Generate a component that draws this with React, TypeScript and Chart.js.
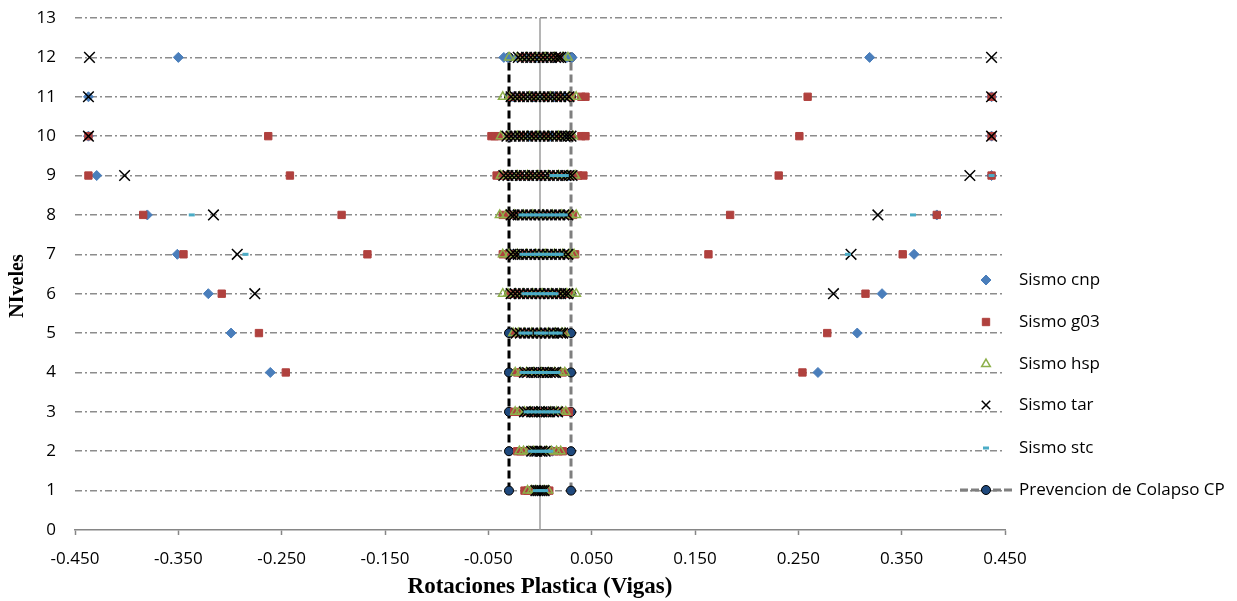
import React, { useEffect, useRef } from 'react';
import { Chart, registerables } from 'chart.js';
import { drawPoint } from 'chart.js/helpers';

Chart.register(...registerables);

// ---------- DATA ----------
const levels = [1, 2, 3, 4, 5, 6, 7, 8, 9, 10, 11, 12];
const xTicks = [-0.45, -0.35, -0.25, -0.15, -0.05, 0.05, 0.15, 0.25, 0.35, 0.45];
const yMin = 0;
const yMax = 13;
const xTitle = 'Rotaciones Plastica (Vigas)';
const yTitle = 'NIveles';
const seriesNames = ['Sismo cnp', 'Sismo g03', 'Sismo hsp', 'Sismo tar', 'Sismo stc', 'Prevencion de Colapso CP'];

// values per level (index 0 = level 1)
const cnpValues: number[][] = [
  [-0.006, -0.002, 0.003],
  [-0.012, -0.006, 0.0, 0.006, 0.012],
  [-0.018, -0.01, -0.002, 0.006, 0.014, 0.02],
  [-0.261, -0.018, -0.01, -0.002, 0.006, 0.014, 0.019, 0.269],
  [-0.299, -0.02, -0.012, -0.004, 0.004, 0.012, 0.02, 0.307],
  [-0.321, -0.025, -0.015, -0.005, 0.005, 0.015, 0.024, 0.331],
  [-0.351, -0.026, -0.016, -0.006, 0.004, 0.014, 0.024, 0.362],
  [-0.38, -0.026, -0.016, -0.006, 0.004, 0.014, 0.024, 0.384],
  [-0.429, -0.03, -0.02, -0.01, 0.0, 0.01, 0.02, 0.028, 0.437],
  [-0.437, -0.03, -0.02, -0.01, 0.0, 0.01, 0.02, 0.028, 0.437],
  [-0.437, -0.026, -0.016, -0.006, 0.004, 0.014, 0.024, 0.437],
  [-0.35, -0.035, -0.031, -0.022, -0.012, -0.004, 0.006, 0.014, 0.02, 0.026, 0.031, 0.319],
];

const g03Values: number[][] = [
  [-0.015, -0.012, -0.008, -0.004, 0.0, 0.004, 0.007, 0.009],
  [-0.022, -0.019, -0.015, -0.01, -0.004, 0.003, 0.009, 0.014, 0.018, 0.022],
  [-0.025, -0.021, -0.016, -0.01, -0.004, 0.003, 0.01, 0.016, 0.021, 0.025, 0.028],
  [-0.246, -0.022, -0.018, -0.012, -0.005, 0.003, 0.01, 0.016, 0.022, 0.254],
  [-0.272, -0.024, -0.02, -0.014, -0.007, 0.001, 0.008, 0.015, 0.02, 0.023, 0.278],
  [-0.308, -0.029, -0.025, -0.019, -0.011, -0.003, 0.005, 0.013, 0.02, 0.025, 0.028, 0.315],
  [-0.345, -0.167, -0.036, -0.031, -0.024, -0.015, -0.006, 0.004, 0.013, 0.022, 0.029, 0.034, 0.163, 0.351],
  [-0.384, -0.192, -0.036, -0.03, -0.022, -0.013, -0.004, 0.006, 0.015, 0.023, 0.029, 0.032, 0.184, 0.384],
  [-0.437, -0.242, -0.042, -0.038, -0.03, -0.02, -0.01, 0.0, 0.011, 0.021, 0.03, 0.037, 0.042, 0.231, 0.437],
  [-0.437, -0.263, -0.047, -0.044, -0.04, -0.03, -0.018, -0.006, 0.006, 0.018, 0.03, 0.04, 0.044, 0.251, 0.437],
  [-0.028, -0.018, -0.006, 0.006, 0.018, 0.03, 0.04, 0.044, 0.259, 0.437],
  [-0.018, -0.008, 0.002, 0.012, 0.018],
];

const hspValues: number[][] = [
  [-0.012, -0.008, -0.004, 0.0, 0.004, 0.008],
  [-0.02, -0.016, -0.011, -0.006, 0.0, 0.006, 0.011, 0.016, 0.02],
  [-0.024, -0.02, -0.015, -0.009, -0.003, 0.004, 0.01, 0.016, 0.021, 0.025],
  [-0.024, -0.019, -0.013, -0.006, 0.001, 0.008, 0.014, 0.02, 0.024],
  [-0.026, -0.021, -0.015, -0.008, 0.0, 0.008, 0.015, 0.021, 0.024],
  [-0.036, -0.031, -0.024, -0.016, -0.007, 0.002, 0.011, 0.019, 0.026, 0.031, 0.035],
  [-0.036, -0.03, -0.022, -0.013, -0.004, 0.005, 0.014, 0.022, 0.029, 0.033],
  [-0.039, -0.033, -0.025, -0.016, -0.007, 0.003, 0.012, 0.021, 0.029, 0.035],
  [-0.038, -0.031, -0.022, -0.012, -0.002, 0.008, 0.018, 0.027, 0.034],
  [-0.038, -0.031, -0.022, -0.012, -0.002, 0.008, 0.018, 0.026, 0.032],
  [-0.036, -0.029, -0.02, -0.01, 0.0, 0.01, 0.02, 0.028, 0.035],
  [-0.03, -0.022, -0.013, -0.004, 0.005, 0.014, 0.022, 0.027],
];

const tarValues: number[][] = [
  [-0.004, -0.002, 0.0, 0.002, 0.004],
  [-0.008, -0.005, -0.003, 0.0, 0.002, 0.005],
  [-0.015, -0.012, -0.008, -0.005, -0.001, 0.002, 0.006, 0.009, 0.013, 0.017],
  [-0.015, -0.012, -0.008, -0.004, -0.001, 0.003, 0.007, 0.01, 0.013, 0.015],
  [-0.023, -0.019, -0.015, -0.011, -0.007, -0.003, 0.001, 0.005, 0.009, 0.013, 0.017, 0.02, 0.022],
  [-0.276, -0.028, -0.024, -0.02, -0.016, -0.012, -0.008, -0.004, 0.0, 0.004, 0.008, 0.012, 0.016, 0.02, 0.024, 0.027, 0.284],
  [-0.293, -0.028, -0.024, -0.021, -0.017, -0.013, -0.009, -0.005, -0.001, 0.003, 0.007, 0.011, 0.015, 0.019, 0.023, 0.027, 0.301],
  [-0.316, -0.028, -0.025, -0.021, -0.017, -0.013, -0.009, -0.005, -0.001, 0.003, 0.007, 0.011, 0.015, 0.019, 0.023, 0.027, 0.327],
  [-0.402, -0.035, -0.031, -0.027, -0.023, -0.019, -0.015, -0.011, -0.007, -0.003, 0.001, 0.005, 0.009, 0.013, 0.017, 0.021, 0.025, 0.028, 0.031, 0.416],
  [-0.437, -0.032, -0.028, -0.024, -0.02, -0.016, -0.012, -0.008, -0.004, 0.0, 0.004, 0.008, 0.012, 0.016, 0.02, 0.024, 0.027, 0.03, 0.437],
  [-0.437, -0.028, -0.024, -0.02, -0.016, -0.012, -0.008, -0.004, 0.0, 0.004, 0.008, 0.012, 0.016, 0.02, 0.024, 0.028, 0.437],
  [-0.436, -0.021, -0.017, -0.013, -0.009, -0.005, -0.001, 0.003, 0.007, 0.011, 0.015, 0.018, 0.02, 0.437],
];

const stcValues: number[][] = [
  [-0.004, -0.001, 0.002, 0.005],
  [-0.009, -0.006, -0.003, 0.0, 0.003, 0.006, 0.008, 0.01],
  [-0.013, -0.01, -0.006, -0.002, 0.002, 0.006, 0.01, 0.013, 0.017],
  [-0.017, -0.013, -0.009, -0.005, -0.001, 0.003, 0.007, 0.011, 0.014, 0.017],
  [-0.018, -0.014, -0.01, -0.003, 0.001, 0.005, 0.011, 0.015, 0.019],
  [-0.015, -0.011, -0.007, -0.003, 0.001, 0.005, 0.009, 0.012, 0.015],
  [-0.285, -0.017, -0.013, -0.009, -0.005, -0.001, 0.003, 0.007, 0.011, 0.015, 0.018, 0.02, 0.298],
  [-0.337, -0.018, -0.014, -0.01, -0.006, -0.002, 0.002, 0.006, 0.01, 0.014, 0.018, 0.021, 0.024, 0.361],
  [0.012, 0.015, 0.018, 0.021, 0.025, 0.437],
  [],
  [],
  [],
];

const cpNegValues = [-0.03, -0.03, -0.03, -0.03, -0.03, -0.03, -0.03, -0.03, -0.03, -0.03, -0.03, -0.03];
const cpPosValues = [0.03, 0.03, 0.03, 0.03, 0.03, 0.03, 0.03, 0.03, 0.03, 0.03, 0.03, 0.03];

// ---------- HELPERS ----------
const toPoints = (vals: number[][]) =>
  vals.flatMap((arr, i) => arr.map((x) => ({ x, y: levels[i] })));

const FONT = 'Open Sans';

const styles = {
  cnp: { pointStyle: 'rectRot', radius: 5, bg: '#4A7EBB', border: '#4A7EBB', bw: 1 },
  g03: { pointStyle: 'rect', radius: 5.2, bg: '#B0413E', border: '#B0413E', bw: 1 },
  hsp: { pointStyle: 'triangle', radius: 5, bg: 'rgba(255,255,255,0)', border: '#8DB04A', bw: 1.5 },
  tar: { pointStyle: 'crossRot', radius: 7.5, bg: '#000', border: '#000', bw: 1.5 },
  stc: { pointStyle: 'line', radius: 3, bg: '#4BACC6', border: '#4BACC6', bw: 3 },
  cp: { pointStyle: 'circle', radius: 4.5, bg: '#1F497D', border: '#000', bw: 1 },
};

const zeroLinePlugin = {
  id: 'zeroLine',
  beforeDatasetsDraw(chart: any) {
    const { ctx, chartArea, scales } = chart;
    const x0 = scales.x.getPixelForValue(0);
    ctx.save();
    ctx.strokeStyle = '#9C9C9C';
    ctx.lineWidth = 1.5;
    ctx.beginPath();
    ctx.moveTo(x0, chartArea.top);
    ctx.lineTo(x0, chartArea.bottom);
    ctx.stroke();
    ctx.restore();
  },
};

const yTitlePlugin = {
  id: 'yTitle',
  afterDraw(chart: any) {
    const { ctx } = chart;
    ctx.save();
    ctx.translate(18, 286);
    ctx.rotate(-Math.PI / 2);
    ctx.fillStyle = '#000';
    ctx.font = 'bold 20px "Liberation Serif"';
    ctx.textAlign = 'center';
    ctx.textBaseline = 'middle';
    ctx.fillText(yTitle, 0, 0);
    ctx.restore();
  },
};

const legendPlugin = {
  id: 'customLegend',
  afterDraw(chart: any) {
    const { ctx } = chart;
    const keys = ['cnp', 'g03', 'hsp', 'tar', 'stc', 'cp'];
    const ys = [280, 322, 364, 405, 448, 490];
    const mx = 986;
    const tx = 1019;
    ctx.save();
    keys.forEach((k, i) => {
      const s: any = (styles as any)[k];
      const y = ys[i];
      if (k === 'cp') {
        ctx.save();
        ctx.strokeStyle = '#7F7F7F';
        ctx.lineWidth = 3;
        ctx.setLineDash([8, 3]);
        ctx.beginPath();
        ctx.moveTo(960, y);
        ctx.lineTo(1012, y);
        ctx.stroke();
        ctx.restore();
      }
      ctx.fillStyle = s.bg;
      ctx.strokeStyle = s.border;
      ctx.lineWidth = s.bw;
      const r = k === 'tar' ? 6 : s.radius;
      drawPoint(ctx, { pointStyle: s.pointStyle, radius: r, rotation: 0, borderWidth: s.bw } as any, mx, y);
      ctx.fillStyle = '#000';
      ctx.font = `17px "${FONT}"`;
      ctx.textBaseline = 'middle';
      ctx.textAlign = 'left';
      ctx.fillText(seriesNames[i], tx, y);
    });
    ctx.restore();
  },
};

function scatterSet(label: string, vals: number[][], s: any, order: number) {
  return {
    label,
    data: toPoints(vals),
    showLine: false,
    pointStyle: s.pointStyle,
    pointRadius: s.radius,
    pointBackgroundColor: s.bg,
    pointBorderColor: s.border,
    pointBorderWidth: s.bw,
    order,
  };
}

function cpSet(label: string, vals: number[], color: string, order: number) {
  return {
    label,
    data: vals.map((x, i) => ({ x, y: levels[i] })),
    showLine: true,
    borderColor: color,
    borderWidth: 3,
    borderDash: [8, 4],
    pointStyle: 'circle',
    pointRadius: styles.cp.radius,
    pointBackgroundColor: styles.cp.bg,
    pointBorderColor: styles.cp.border,
    pointBorderWidth: styles.cp.bw,
    order,
  };
}

export default function App() {
  const ref = useRef<HTMLCanvasElement | null>(null);
  useEffect(() => {
    document.body.style.margin = '0';
    const canvas = ref.current;
    if (!canvas) return;
    const chart = new Chart(canvas, {
      type: 'scatter',
      data: {
        datasets: [
          scatterSet(seriesNames[0], cnpValues, styles.cnp, 6),
          scatterSet(seriesNames[1], g03Values, styles.g03, 5),
          scatterSet(seriesNames[2], hspValues, styles.hsp, 4),
          scatterSet(seriesNames[3], tarValues, styles.tar, 3),
          scatterSet(seriesNames[4], stcValues, styles.stc, 2),
          cpSet(seriesNames[5], cpNegValues, '#000000', 8),
          cpSet(seriesNames[5] + ' +', cpPosValues, '#7F7F7F', 7),
        ] as any,
      },
      options: {
        animation: false,
        responsive: false,
        devicePixelRatio: 1,
        layout: { padding: { left: 0, right: 232, top: 18, bottom: 0 } },
        plugins: {
          legend: { display: false },
          tooltip: { enabled: false },
        },
        scales: {
          x: {
            type: 'linear',
            min: xTicks[0],
            max: xTicks[xTicks.length - 1],
            afterBuildTicks: (s: any) => {
              s.ticks = xTicks.map((v) => ({ value: v }));
            },
            afterFit: (s: any) => {
              s.height = 71;
              s.paddingLeft = 0;
              s.paddingRight = 0;
            },
            ticks: {
              autoSkip: false,
              maxRotation: 0,
              padding: 14,
              color: '#000',
              font: { family: FONT, size: 17 },
              callback: (v: any) => Number(v).toFixed(3),
            },
            grid: {
              drawOnChartArea: false,
              drawTicks: true,
              tickLength: 5,
              tickColor: '#868686',
              tickWidth: 1.5,
            },
            border: { display: true, color: '#868686', width: 1.5 },
            title: {
              display: true,
              text: xTitle,
              color: '#000',
              font: { family: 'Liberation Serif', size: 23, weight: 'bold', lineHeight: 1.2 },
              padding: { top: 0, bottom: 0 },
            },
          },
          y: {
            type: 'linear',
            min: yMin,
            max: yMax,
            afterFit: (s: any) => {
              s.width = 75;
              s.paddingTop = 0;
              s.paddingBottom = 0;
            },
            ticks: {
              stepSize: 1,
              padding: 19,
              color: '#000',
              font: { family: FONT, size: 17 },
            },
            grid: {
              drawTicks: false,
              lineWidth: 1.5,
              color: (c: any) => (c.tick && c.tick.value === 0 ? 'rgba(0,0,0,0)' : '#8C8C8C'),
            },
            border: { display: false, dash: [7, 3, 2, 3] },
            title: { display: false },
          },
        },
      } as any,
      plugins: [zeroLinePlugin, legendPlugin, yTitlePlugin],
    });
    return () => chart.destroy();
  }, []);
  return (
    <div style={{ width: 1237, height: 601 }}>
      <canvas ref={ref} width={1237} height={601} style={{ display: 'block' }} />
    </div>
  );
}
